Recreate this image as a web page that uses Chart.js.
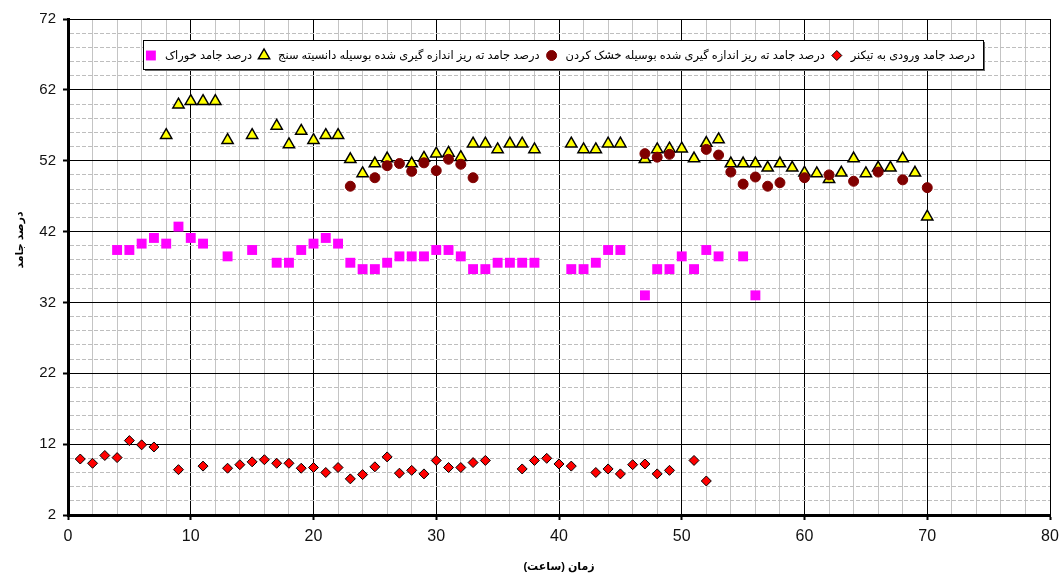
<!DOCTYPE html>
<html>
<head>
<meta charset="utf-8">
<script src="https://cdn.jsdelivr.net/npm/chart.js@4.4.1/dist/chart.umd.min.js"></script>
<style>
body { margin: 0; background: #fff; }
</style>
</head>
<body>
<canvas id="solidsChart" width="1063" height="582"></canvas>
<script>
// زمان (ساعت) و درصد جامد هر سری
const feedThickenerHours = [1, 2, 3, 4, 5, 6, 7, 9, 11, 13, 14, 15, 16, 17, 18, 19, 20, 21, 22, 23, 24, 25, 26, 27, 28, 29, 30, 31, 32, 33, 34, 37, 38, 39, 40, 41, 43, 44, 45, 46, 47, 48, 49, 51, 52];
const feedThickenerSolids = [9.9, 9.3, 10.4, 10.1, 12.5, 11.9, 11.6, 8.4, 8.9, 8.6, 9.1, 9.5, 9.8, 9.3, 9.3, 8.6, 8.7, 8.0, 8.7, 7.1, 7.7, 8.8, 10.2, 7.9, 8.3, 7.8, 9.7, 8.7, 8.7, 9.4, 9.7, 8.5, 9.7, 10.0, 9.2, 8.9, 8.0, 8.5, 7.8, 9.1, 9.2, 7.8, 8.3, 9.7, 6.8];

const dryingHours = [23, 25, 26, 27, 28, 29, 30, 31, 32, 33, 47, 48, 49, 52, 53, 54, 55, 56, 57, 58, 60, 62, 64, 66, 68, 70];
const dryingSolids = [48.4, 49.6, 51.3, 51.6, 50.5, 51.7, 50.6, 52.2, 51.5, 49.6, 53.0, 52.5, 52.9, 53.6, 52.8, 50.4, 48.7, 49.7, 48.4, 48.9, 49.6, 50.0, 49.1, 50.4, 49.3, 48.2];

const densityHours = [8, 9, 10, 11, 12, 13, 15, 17, 18, 19, 20, 21, 22, 23, 24, 25, 26, 28, 29, 30, 31, 32, 33, 34, 35, 36, 37, 38, 41, 42, 43, 44, 45, 47, 48, 49, 50, 51, 52, 53, 54, 55, 56, 57, 58, 59, 60, 61, 62, 63, 64, 65, 66, 67, 68, 69, 70];
const densitySolids = [55.6, 59.9, 60.4, 60.4, 60.4, 54.9, 55.6, 56.9, 54.3, 56.2, 54.9, 55.6, 55.6, 52.2, 50.2, 51.6, 52.3, 51.6, 52.4, 53.0, 53.1, 52.5, 54.4, 54.4, 53.6, 54.4, 54.4, 53.6, 54.4, 53.6, 53.6, 54.4, 54.4, 52.2, 53.6, 53.7, 53.7, 52.3, 54.5, 55.0, 51.6, 51.6, 51.6, 51.0, 51.6, 51.0, 50.3, 50.2, 49.4, 50.3, 52.3, 50.2, 51.0, 51.0, 52.3, 50.3, 44.1];

const feedHours = [4, 5, 6, 7, 8, 9, 10, 11, 13, 15, 17, 18, 19, 20, 21, 22, 23, 24, 25, 26, 27, 28, 29, 30, 31, 32, 33, 34, 35, 36, 37, 38, 41, 42, 43, 44, 45, 47, 48, 49, 50, 51, 52, 53, 55, 56];
const feedSolids = [39.4, 39.4, 40.3, 41.1, 40.3, 42.7, 41.1, 40.3, 38.5, 39.4, 37.6, 37.6, 39.4, 40.3, 41.1, 40.3, 37.6, 36.7, 36.7, 37.6, 38.5, 38.5, 38.5, 39.4, 39.4, 38.5, 36.7, 36.7, 37.6, 37.6, 37.6, 37.6, 36.7, 36.7, 37.6, 39.4, 39.4, 33.0, 36.7, 36.7, 38.5, 36.7, 39.4, 38.5, 38.5, 33.0];

const seriesLabels = [
    "درصد جامد ورودی به تیکنر",
    "درصد جامد ته ریز اندازه گیری شده بوسیله خشک کردن",
    "درصد جامد ته ریز اندازه گیری شده بوسیله دانسیته سنج",
    "درصد جامد خوراک"
];
const xTitle = "زمان (ساعت)";
const yTitle = "درصد جامد";

function toPoints(hours, values) {
    return hours.map((h, i) => ({ x: h, y: values[i] }));
}

const fontFamily = "'Liberation Sans', 'DejaVu Sans', sans-serif";
Chart.defaults.font.family = fontFamily;

function drawMarker(ctx, ds, x, y) {
    ctx.save();
    ctx.fillStyle = ds.backgroundColor;
    ctx.strokeStyle = ds.borderColor;
    ctx.lineWidth = ds.borderWidth;
    const r = ds.pointRadius;
    ctx.beginPath();
    if (ds.pointStyle === "rectRot") {
        ctx.moveTo(x, y - r); ctx.lineTo(x + r, y); ctx.lineTo(x, y + r); ctx.lineTo(x - r, y); ctx.closePath();
    } else if (ds.pointStyle === "triangle") {
        ctx.moveTo(x, y - r); ctx.lineTo(x + r * 0.866, y + r * 0.5); ctx.lineTo(x - r * 0.866, y + r * 0.5); ctx.closePath();
    } else if (ds.pointStyle === "rect") {
        const s = r * Math.SQRT1_2;
        ctx.rect(x - s, y - s, 2 * s, 2 * s);
    } else {
        ctx.arc(x, y, r, 0, Math.PI * 2);
    }
    ctx.fill();
    if (ds.borderWidth > 0) ctx.stroke();
    ctx.restore();
}

// legend inside the plot, drawn right to left, plus the two axis titles
const insideLegend = {
    id: "insideLegend",
    afterDraw(chart) {
        const ctx = chart.ctx;
        const box = { left: 143, top: 40, right: 983, bottom: 69 };
        ctx.save();
        ctx.fillStyle = "#666";
        ctx.fillRect(box.left + 2, box.top + 2, box.right - box.left, box.bottom - box.top);
        ctx.fillStyle = "#fff";
        ctx.fillRect(box.left, box.top, box.right - box.left, box.bottom - box.top);
        ctx.strokeStyle = "#000";
        ctx.lineWidth = 1;
        ctx.strokeRect(box.left + 0.5, box.top + 0.5, box.right - box.left, box.bottom - box.top);

        ctx.direction = "rtl";
        ctx.textAlign = "right";
        ctx.textBaseline = "middle";
        let size = 11;
        ctx.font = size + "px " + fontFamily;
        let total = 0;
        seriesLabels.forEach(t => total += ctx.measureText(t).width);
        size = Math.max(9, Math.min(12, size * 733 / total));
        ctx.font = size + "px " + fontFamily;
        ctx.fillStyle = "#000";

        let right = 975;
        const cy = (box.top + box.bottom) / 2 + 1;
        chart.data.datasets.forEach(ds => {
            const w = ctx.measureText(ds.label).width;
            ctx.fillText(ds.label, right, cy);
            const mx = right - w - 14;
            drawMarker(ctx, ds, mx, cy);
            right = mx - 12;
        });

        ctx.font = "bold 11px " + fontFamily;
        ctx.textAlign = "center";
        ctx.fillText(xTitle, (chart.chartArea.left + chart.chartArea.right) / 2, 567);
        ctx.translate(20, 240);
        ctx.rotate(-Math.PI / 2);
        ctx.fillText(yTitle, 0, 0);
        ctx.restore();
    }
};

new Chart(document.getElementById("solidsChart"), {
    type: "scatter",
    data: {
        datasets: [{
            label: seriesLabels[0],
            data: toPoints(feedThickenerHours, feedThickenerSolids),
            pointStyle: "rectRot",
            pointRadius: 5,
            backgroundColor: "#ff0000",
            borderColor: "#000000",
            borderWidth: 1
        }, {
            label: seriesLabels[1],
            data: toPoints(dryingHours, dryingSolids),
            pointStyle: "circle",
            pointRadius: 5,
            backgroundColor: "#800000",
            borderColor: "#800000",
            borderWidth: 1
        }, {
            label: seriesLabels[2],
            data: toPoints(densityHours, densitySolids),
            pointStyle: "triangle",
            pointRadius: 6.5,
            backgroundColor: "#ffff00",
            borderColor: "#000000",
            borderWidth: 1.5
        }, {
            label: seriesLabels[3],
            data: toPoints(feedHours, feedSolids),
            pointStyle: "rect",
            pointRadius: 7,
            backgroundColor: "#ff00ff",
            borderColor: "#ff00ff",
            borderWidth: 0
        }]
    },
    options: {
        responsive: false,
        animation: false,
        layout: { padding: { left: 0, right: 13, top: 19, bottom: 0 } },
        plugins: { legend: { display: false }, tooltip: { enabled: false } },
        scales: {
            x: {
                type: "linear",
                min: 0,
                max: 80,
                afterFit: s => { s.height = 67; s.paddingLeft = 0; s.paddingRight = 0; },
                ticks: {
                    stepSize: 2,
                    autoSkip: false,
                    maxRotation: 0,
                    maxTicksLimit: 100,
                    padding: 7,
                    color: "#111",
                    font: { size: 16, family: "'Liberation Sans Narrow', 'Liberation Sans', sans-serif" },
                    callback: v => (v % 10 === 0 ? v : "")
                },
                grid: {
                    color: c => (c.tick && c.tick.value % 10 === 0 ? "#000" : "#c4c4c4"),
                    lineWidth: 1,
                    tickLength: 5,
                    tickWidth: 2,
                    tickColor: c => (c.tick && c.tick.value % 10 === 0 ? "#000" : "rgba(0,0,0,0)")
                },
                border: { color: "#000", width: 3 }
            },
            y: {
                min: 2,
                max: 72,
                afterFit: s => { s.width = 68; s.paddingTop = 0; s.paddingBottom = 0; },
                ticks: {
                    stepSize: 2,
                    autoSkip: false,
                    maxTicksLimit: 100,
                    padding: 7,
                    color: "#111",
                    font: { size: 15 },
                    callback: v => ((v - 2) % 10 === 0 ? v : "")
                },
                grid: {
                    color: c => (c.tick && (c.tick.value - 2) % 10 === 0 ? "#000" : "#bebebe"),
                    lineWidth: 1,
                    tickLength: 5,
                    tickWidth: 2,
                    tickColor: c => (c.tick && (c.tick.value - 2) % 10 === 0 ? "#000" : "rgba(0,0,0,0)")
                },
                border: {
                    color: "#000",
                    width: 3,
                    dash: c => (c.tick && (c.tick.value - 2) % 10 !== 0 ? [4, 2] : [])
                }
            }
        }
    },
    plugins: [insideLegend]
});
</script>
</body>
</html>
